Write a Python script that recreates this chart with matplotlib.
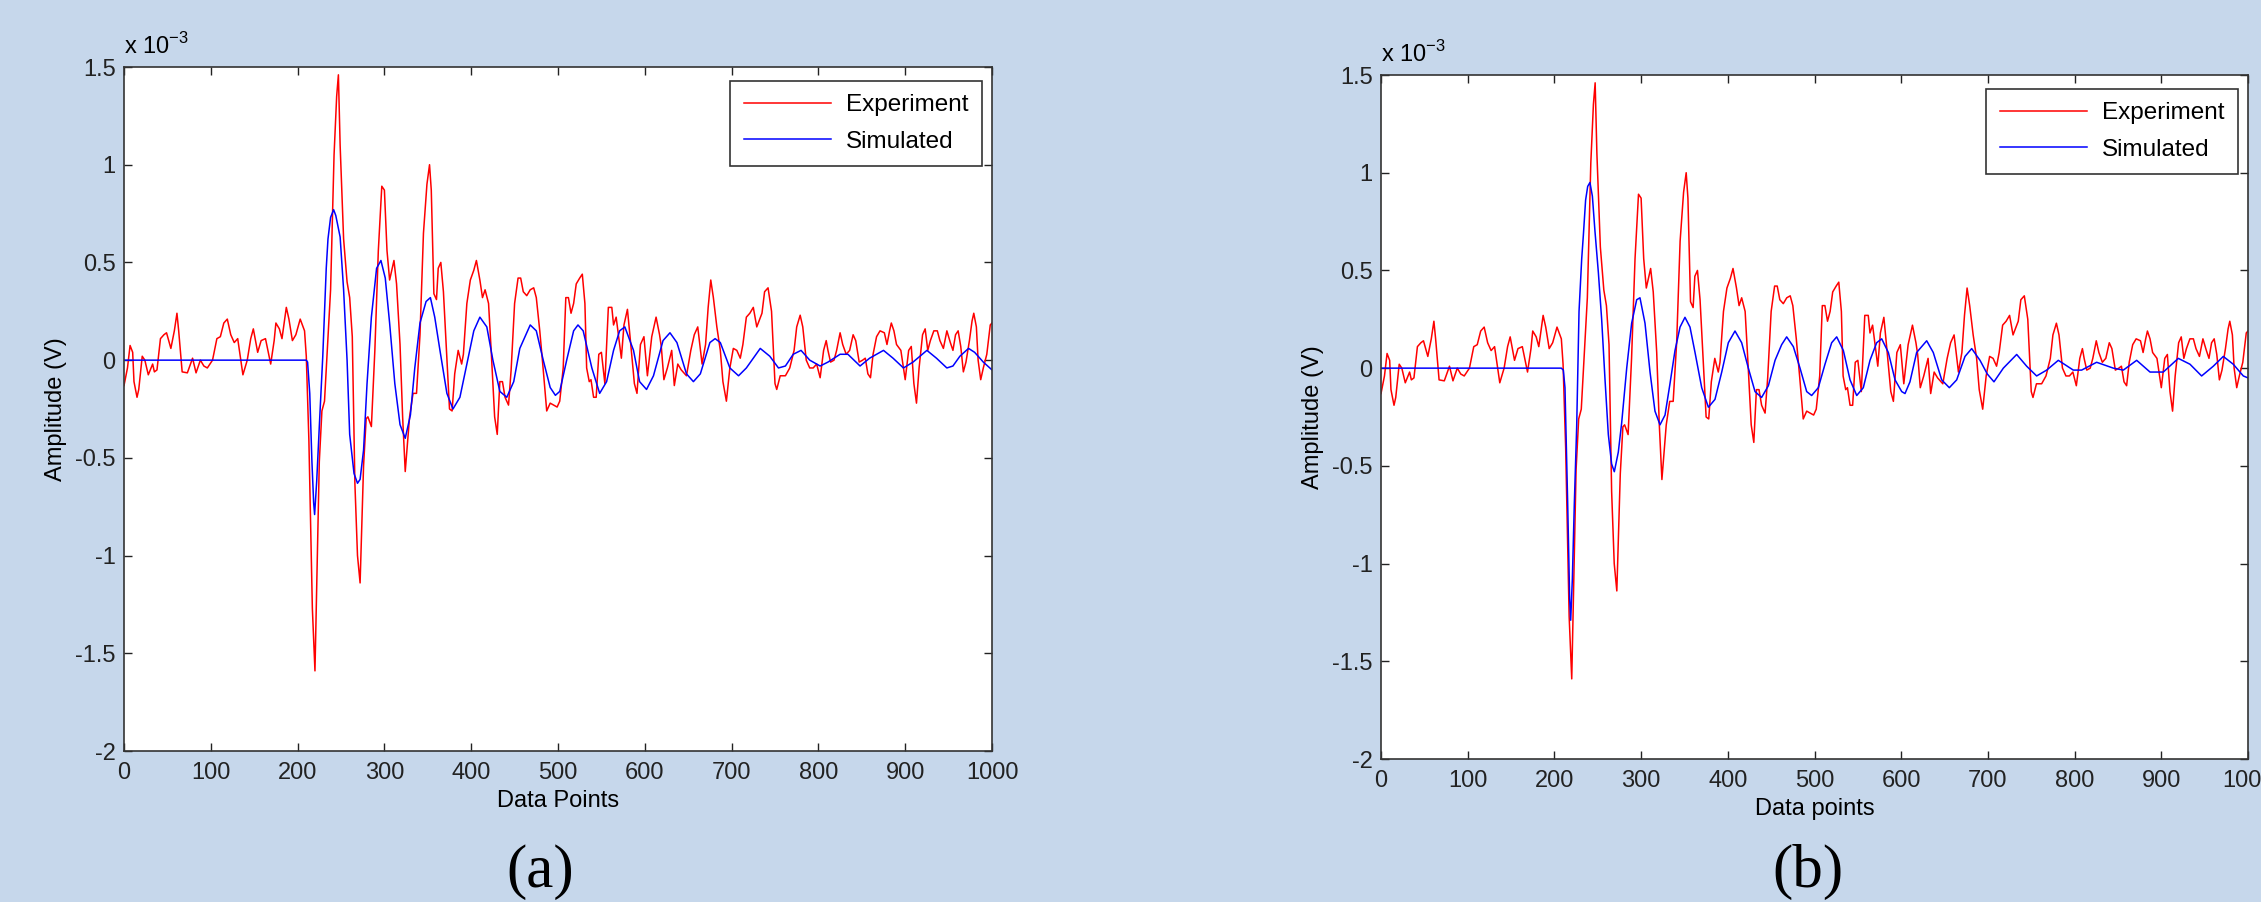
import matplotlib
matplotlib.use("Agg")
from matplotlib import pyplot as plt
import numpy as np

plt.rcParams['font.family'] = ['Liberation Sans', 'DejaVu Sans']
plt.rcParams['axes.unicode_minus'] = False

BG = '#c6d7eb'

# experiment trace (same in both panels), amplitude in units of 1e-3 V
exp_x = [0, 4, 7, 10, 11.5, 15, 17, 21, 24, 28, 33, 35, 38, 42, 46, 49, 54, 58, 61, 63,
         67, 73, 79, 83, 88, 92, 96, 102, 107, 111, 115, 119, 123, 127, 131, 137, 142, 146, 149, 154,
         158, 163, 169, 173, 175, 179, 182, 187, 190, 194, 198, 203, 208, 210, 213, 215, 217, 220, 222, 225,
         228, 231, 235, 238, 242, 245, 247, 249, 253, 257, 260, 263, 266, 269, 272, 276, 279, 281, 285, 289,
         293, 297, 300, 303, 306, 311, 314, 318, 321, 324, 329, 333, 337, 341, 345, 349, 352, 354, 357, 360,
         362, 365, 368, 372, 375, 378, 381, 385, 389, 391, 395, 399, 403, 406, 410, 413, 416, 420, 423, 427,
         430, 433, 436, 439, 443, 446, 450, 454, 457, 460, 464, 468, 472, 475, 479, 483, 487, 491, 495, 499,
         502, 506, 509, 512, 515, 518, 521, 525, 528, 531, 533, 536, 538, 541, 544, 547, 550, 554, 558, 562,
         564, 567, 573, 576, 580, 583, 588, 591, 595, 599, 603, 608, 613, 617, 619, 622, 626, 631, 634, 638,
         642, 648, 653, 657, 661, 666, 670, 673, 676, 679, 683, 687, 690, 694, 698, 702, 706, 710, 713, 717,
         721, 725, 729, 735, 738, 742, 746, 750, 752, 756, 762, 767, 772, 775, 779, 782, 786, 790, 794, 798,
         802, 806, 809, 811, 814, 818, 821, 825, 828, 832, 836, 840, 843, 847, 851, 854, 857, 860, 863, 867,
         871, 876, 879, 882, 884, 887, 890, 895, 898, 900, 904, 907, 910, 913, 916, 920, 923, 926, 929, 933,
         937, 940, 944, 948, 952, 955, 958, 961, 964, 967, 970, 974, 977, 979, 982, 984, 987, 990, 994, 998,
         1000]
exp_y = [-0.13, -0.04, 0.075, 0.04, -0.11, -0.19, -0.15, 0.02, 0.0, -0.075, -0.02, -0.06, -0.05, 0.11, 0.13, 0.14, 0.06, 0.15, 0.24, 0.15,
         -0.06, -0.065, 0.01, -0.065, 0.0, -0.03, -0.04, 0.0, 0.11, 0.12, 0.19, 0.21, 0.13, 0.09, 0.11, -0.075, 0.0, 0.11, 0.16, 0.04,
         0.10, 0.11, -0.02, 0.10, 0.19, 0.16, 0.11, 0.27, 0.21, 0.10, 0.13, 0.21, 0.15, 0.02, -0.41, -0.84, -1.27, -1.59, -1.16, -0.52,
         -0.26, -0.21, 0.11, 0.36, 1.05, 1.35, 1.46, 1.10, 0.62, 0.40, 0.32, 0.12, -0.63, -1.0, -1.14, -0.54, -0.30, -0.29, -0.34, 0.05,
         0.56, 0.89, 0.87, 0.56, 0.41, 0.51, 0.39, 0.08, -0.29, -0.57, -0.29, -0.17, -0.17, 0.13, 0.65, 0.90, 1.00, 0.87, 0.34, 0.31,
         0.47, 0.50, 0.35, 0.01, -0.25, -0.26, -0.07, 0.05, -0.02, 0.03, 0.29, 0.41, 0.46, 0.51, 0.41, 0.32, 0.36, 0.29, 0.05, -0.29,
         -0.38, -0.11, -0.11, -0.19, -0.23, -0.05, 0.29, 0.42, 0.42, 0.35, 0.33, 0.36, 0.37, 0.32, 0.15, -0.05, -0.26, -0.22, -0.23, -0.24,
         -0.21, -0.04, 0.32, 0.32, 0.24, 0.29, 0.39, 0.42, 0.44, 0.29, -0.04, -0.11, -0.10, -0.19, -0.19, 0.03, 0.04, -0.12, 0.27, 0.27,
         0.18, 0.22, 0.01, 0.18, 0.26, 0.12, -0.12, -0.17, 0.08, 0.12, -0.08, 0.12, 0.22, 0.13, 0.07, -0.10, -0.04, 0.05, -0.13, -0.02,
         -0.05, -0.08, 0.05, 0.13, 0.17, -0.02, 0.08, 0.27, 0.41, 0.32, 0.17, 0.05, -0.11, -0.21, -0.04, 0.06, 0.05, 0.01, 0.08, 0.22,
         0.24, 0.27, 0.17, 0.24, 0.35, 0.37, 0.25, -0.12, -0.15, -0.08, -0.08, -0.04, 0.05, 0.17, 0.23, 0.17, 0.0, -0.04, -0.04, -0.02,
         -0.09, 0.05, 0.10, 0.05, -0.01, 0.0, 0.05, 0.14, 0.08, 0.03, 0.05, 0.13, 0.10, -0.01, 0.0, 0.01, -0.07, -0.09, 0.03, 0.12,
         0.15, 0.14, 0.08, 0.15, 0.19, 0.15, 0.08, 0.05, -0.04, -0.10, 0.05, 0.07, -0.12, -0.22, -0.04, 0.13, 0.16, 0.05, 0.10, 0.15,
         0.15, 0.10, 0.06, 0.15, 0.09, 0.05, 0.13, 0.15, 0.07, -0.06, -0.01, 0.10, 0.20, 0.24, 0.17, 0.0, -0.10, -0.04, 0.03, 0.18,
         0.19]

# simulated trace, panel (a)
sim_a_x = [0, 210, 211.5, 214, 216.5, 218.5, 219.6, 222, 225, 229, 233, 235, 238, 241.5, 244, 249, 253, 257, 260, 265,
           269, 272, 276, 280, 285, 291, 296, 301, 306, 312, 318, 324, 330, 335, 341, 348, 353, 358, 364, 372,
           379, 387, 395, 403, 410, 418, 425, 433, 441, 449, 456, 468, 475, 483, 491, 497, 502, 510, 518, 523,
           529, 539, 548, 556, 564, 571, 577, 587, 594, 602, 610, 621, 629, 637, 648, 656, 664, 675, 681, 687,
           698, 708, 717, 733, 744, 754, 762, 771, 780, 790, 802, 811, 825, 834, 848, 859, 875, 886, 898, 909,
           925, 936, 948, 955, 963, 973, 980, 990, 1000]
sim_a_y = [0, 0, -0.01, -0.17, -0.52, -0.73, -0.79, -0.62, -0.34, 0.02, 0.47, 0.62, 0.73, 0.77, 0.74, 0.63, 0.36, 0.0, -0.38, -0.58,
           -0.63, -0.61, -0.46, -0.12, 0.22, 0.47, 0.51, 0.42, 0.19, -0.12, -0.33, -0.40, -0.28, -0.04, 0.19, 0.30, 0.32, 0.22, 0.05, -0.17,
           -0.25, -0.19, -0.02, 0.15, 0.22, 0.17, 0.0, -0.16, -0.19, -0.11, 0.06, 0.18, 0.15, 0.0, -0.14, -0.18, -0.16, 0.0, 0.15, 0.18,
           0.15, -0.04, -0.17, -0.11, 0.05, 0.15, 0.17, 0.05, -0.11, -0.15, -0.08, 0.10, 0.14, 0.09, -0.07, -0.11, -0.07, 0.09, 0.11, 0.09,
           -0.04, -0.08, -0.04, 0.06, 0.02, -0.04, -0.03, 0.03, 0.05, 0.0, -0.03, -0.01, 0.03, 0.03, -0.03, 0.01, 0.05, 0.01, -0.04, -0.01,
           0.05, 0.01, -0.04, -0.03, 0.02, 0.06, 0.04, -0.01, -0.05]

# simulated trace, panel (b)
sim_b_x = [0, 208, 210.3, 212.2, 215.3, 217.6, 218.8, 220.7, 223, 225.7, 228.4, 231.5, 233.4, 236, 238.4, 241, 243.8, 246.8, 250.7, 254.5,
           258.4, 262.2, 266, 269.1, 273.7, 277.6, 283.4, 289.1, 294.9, 298.7, 304.5, 310.3, 316, 321.8, 327.6, 333.3, 339.1, 344.9, 350.6, 356.4,
           362.2, 369.9, 377.6, 385.2, 393, 400.6, 408.3, 416, 423.7, 431.4, 439, 446.8, 454.5, 462.1, 467.9, 475.6, 483.3, 491, 496.7, 504.4,
           512.1, 519.8, 525.6, 533.3, 541, 548.7, 556.3, 564, 571.7, 577.5, 585.2, 592.9, 600.6, 604.4, 610.1, 617.8, 629.4, 637, 646.7, 655.5,
           664, 673.6, 681.3, 690.9, 699.3, 707, 717.8, 733.2, 744.7, 756.2, 767.8, 781.2, 798.5, 808.1, 825.4, 844.7, 856.2, 871.6, 887, 902.3,
           919.6, 933.1, 946.5, 960, 971.5, 983, 994.6, 1000]
sim_b_y = [0, 0, -0.01, -0.10, -0.69, -1.18, -1.29, -1.08, -0.69, -0.30, 0.29, 0.56, 0.68, 0.86, 0.93, 0.95, 0.88, 0.70, 0.49, 0.25,
           -0.06, -0.34, -0.49, -0.53, -0.43, -0.28, 0.0, 0.23, 0.35, 0.36, 0.23, -0.02, -0.22, -0.29, -0.24, -0.08, 0.09, 0.21, 0.26, 0.21,
           0.08, -0.10, -0.20, -0.16, -0.02, 0.13, 0.19, 0.13, 0.0, -0.12, -0.15, -0.09, 0.04, 0.12, 0.16, 0.11, 0.0, -0.12, -0.14, -0.10,
           0.02, 0.13, 0.16, 0.09, -0.06, -0.14, -0.10, 0.04, 0.13, 0.15, 0.08, -0.06, -0.12, -0.13, -0.07, 0.08, 0.14, 0.08, -0.06, -0.10,
           -0.06, 0.06, 0.10, 0.04, -0.03, -0.07, 0.0, 0.07, 0.01, -0.04, -0.01, 0.04, -0.01, -0.01, 0.03, 0.0, -0.01, 0.04, -0.02, -0.02,
           0.05, 0.02, -0.04, 0.01, 0.06, 0.02, -0.04, -0.05]

x_ticks = [0, 100, 200, 300, 400, 500, 600, 700, 800, 900, 1000]
y_ticks = [-2, -1.5, -1, -0.5, 0, 0.5, 1, 1.5]
y_tick_labels = ['-2', '-1.5', '-1', '-0.5', '0', '0.5', '1', '1.5']

W, H = 2261, 902
fig = plt.figure(figsize=(W / 100, H / 100), dpi=100, facecolor=BG)


def make_panel(rect, sim_x, sim_y, xlabel, tag, tag_x):
    ax = fig.add_axes(rect)
    ax.set_facecolor('white')
    ax.plot(exp_x, exp_y, color='#ff0000', lw=1.1, label='Experiment')
    ax.plot(sim_x, sim_y, color='#0000ff', lw=1.1, label='Simulated')
    ax.set_xlim(0, 1000)
    ax.set_ylim(-2, 1.5)
    ax.set_xticks(x_ticks)
    ax.set_yticks(y_ticks)
    ax.set_yticklabels(y_tick_labels)
    ax.tick_params(direction='in', length=6, width=1, top=True, right=True,
                   labelsize=17, colors='#222222')
    ax.tick_params(axis='x', pad=8)
    ax.tick_params(axis='y', pad=6)
    for s in ax.spines.values():
        s.set_color('#333333')
        s.set_linewidth(1.2)
    ax.set_xlabel(xlabel, fontsize=17, labelpad=4)
    ax.set_ylabel('Amplitude (V)', fontsize=17, labelpad=6)
    ax.text(0.0, 1.012, r'x 10$^{\mathregular{-3}}$', transform=ax.transAxes,
            fontsize=17, ha='left', va='bottom')
    leg = ax.legend(loc='upper right', bbox_to_anchor=(0.988, 0.98), borderaxespad=0,
                    fontsize=17.5, frameon=True, fancybox=False, handlelength=3.6,
                    handletextpad=0.6, borderpad=0.55, labelspacing=0.6)
    leg.get_frame().set_edgecolor('black')
    leg.get_frame().set_linewidth(1.2)
    fig.text(tag_x / W, 1 - 872 / H, tag, fontsize=44, ha='center', va='center',
             family=['Liberation Serif', 'DejaVu Serif'])
    return ax


make_panel([124 / W, 1 - 751 / H, 868 / W, 684 / H], sim_a_x, sim_a_y, 'Data Points', '(a)', 540)
make_panel([1381 / W, 1 - 759 / H, 867 / W, 684 / H], sim_b_x, sim_b_y, 'Data points', '(b)', 1808)

fig.savefig('out.png', dpi=100, facecolor=BG)
